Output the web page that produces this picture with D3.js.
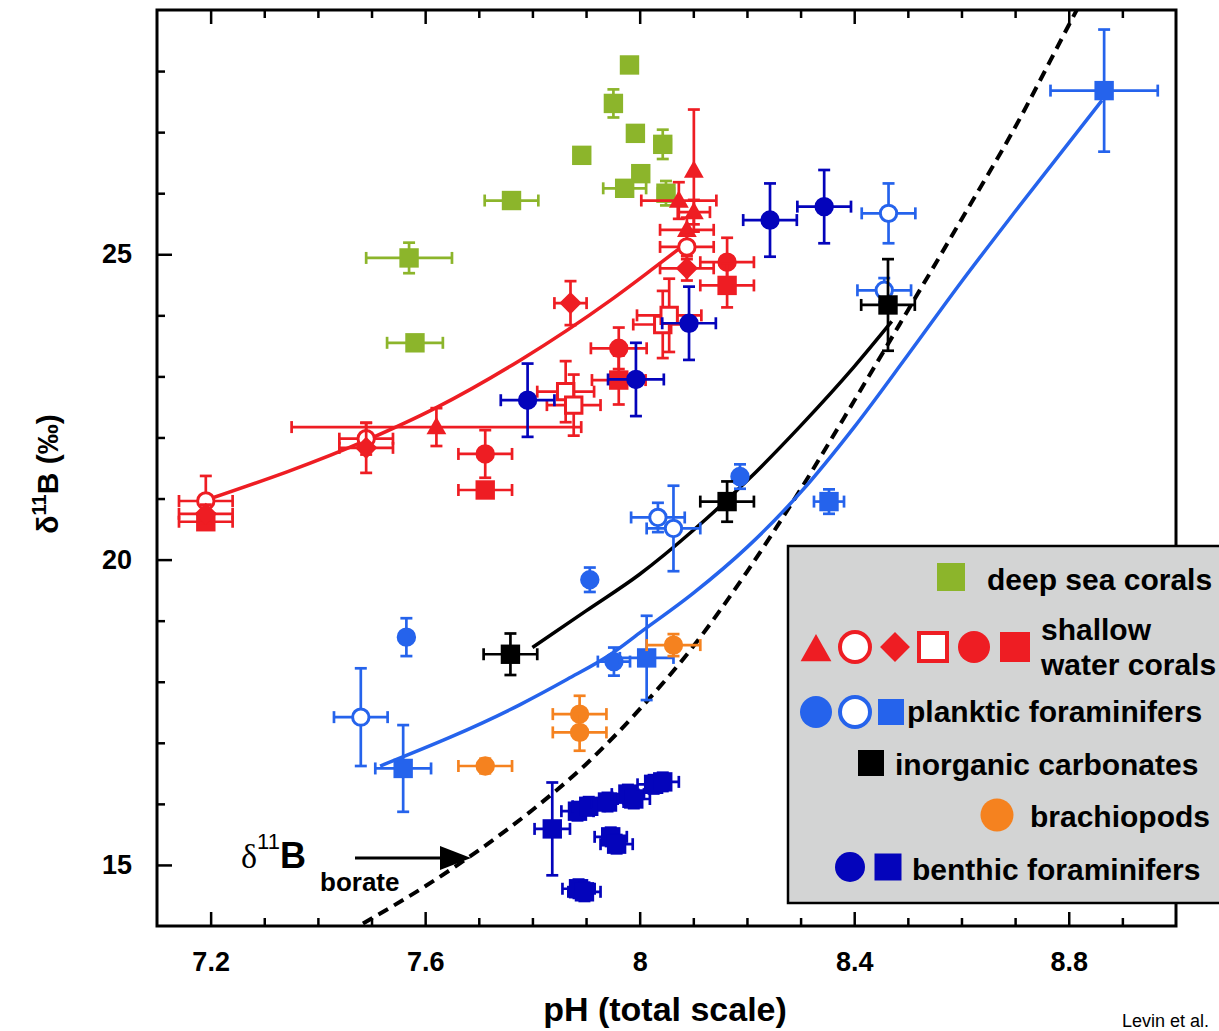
<!DOCTYPE html>
<html>
<head>
<meta charset="utf-8">
<script src="https://cdn.jsdelivr.net/npm/d3@7"></script>
<style>
  body { margin: 0; background: #fff; }
  text { font-family: "Liberation Sans", Arial, Helvetica, sans-serif; }
</style>
</head>
<body>
<svg id="chart" width="1219" height="1031"></svg>
<script>
// ---- data: [pH, d11B, pH error, d11B error, marker] ----
const deepSeaCorals = [
  [7.981, 28.10, 0, 0, "sq"],
  [7.951, 27.47, 0, 0.23, "sq"],
  [7.992, 26.98, 0, 0, "sq"],
  [8.043, 26.80, 0.015, 0.24, "sq"],
  [7.892, 26.62, 0, 0, "sq"],
  [8.002, 26.32, 0, 0, "sq"],
  [7.972, 26.08, 0.04, 0, "sq"],
  [8.049, 26.00, 0.015, 0.2, "sq"],
  [7.761, 25.88, 0.05, 0, "sq"],
  [7.570, 24.94, 0.08, 0.25, "sq"],
  [7.581, 23.55, 0.052, 0, "sq"]
];

const shallowWaterCorals = [
  [7.191, 20.96, 0.05, 0.41, "ocirc"],
  [7.191, 20.62, 0.05, 0.10, "sq"],
  [7.191, 20.75, 0.05, 0.15, "diam"],
  [7.490, 21.98, 0.05, 0.26, "ocirc"],
  [7.490, 21.83, 0.05, 0.41, "diam"],
  [7.621, 22.17, 0.27, 0.31, "tri"],
  [7.712, 21.73, 0.05, 0.39, "circ"],
  [7.712, 21.14, 0.05, 0.10, "sq"],
  [7.871, 24.20, 0.03, 0.36, "diam"],
  [7.862, 22.75, 0.053, 0.5, "osq"],
  [7.877, 22.53, 0.05, 0.5, "osq"],
  [7.961, 23.46, 0.052, 0.34, "circ"],
  [7.961, 22.94, 0.05, 0.40, "sq"],
  [8.043, 23.85, 0.055, 0.55, "osq"],
  [8.055, 24.00, 0.06, 0.60, "osq"],
  [8.101, 26.37, 0, 1.0, "tri"],
  [8.073, 25.88, 0.07, 0.3, "tri"],
  [8.101, 25.69, 0.03, 0.2, "tri"],
  [8.088, 25.40, 0.05, 0.2, "tri"],
  [8.088, 25.12, 0.05, 0.2, "ocirc"],
  [8.088, 24.77, 0.05, 0.2, "diam"],
  [8.163, 24.87, 0.05, 0.4, "circ"],
  [8.163, 24.49, 0.05, 0.36, "sq"]
];

const planktonicForams = [
  [8.464, 25.67, 0.05, 0.49, "ocirc"],
  [8.456, 24.41, 0.05, 0.2, "ocirc"],
  [8.034, 20.69, 0.05, 0.24, "ocirc"],
  [8.063, 20.51, 0.05, 0.7, "ocirc"],
  [7.480, 17.42, 0.05, 0.8, "ocirc"],
  [8.187, 21.36, 0.01, 0.2, "circ"],
  [7.907, 19.67, 0.01, 0.2, "circ"],
  [7.565, 18.73, 0.01, 0.31, "circ"],
  [7.952, 18.33, 0.03, 0.23, "circ"],
  [8.353, 20.95, 0.028, 0.2, "sq"],
  [7.559, 16.58, 0.052, 0.71, "sq"],
  [8.013, 18.39, 0.05, 0.69, "sq"],
  [8.866, 27.68, 0.10, 1.0, "sq"]
];

const inorganicCarbonates = [
  [7.759, 18.45, 0.05, 0.34, "sq"],
  [8.163, 20.95, 0.05, 0.33, "sq"],
  [8.463, 24.17, 0.05, 0.75, "sq"]
];

const brachiopods = [
  [8.063, 18.60, 0.05, 0.18, "circ"],
  [7.888, 17.47, 0.05, 0.3, "circ"],
  [7.888, 17.17, 0.05, 0.3, "circ"],
  [7.712, 16.62, 0.05, 0.12, "circ"]
];

const benthicForams = [
  [8.243, 25.56, 0.05, 0.6, "circ"],
  [8.344, 25.78, 0.05, 0.6, "circ"],
  [8.092, 23.87, 0.05, 0.6, "circ"],
  [7.993, 22.95, 0.052, 0.6, "circ"],
  [7.791, 22.61, 0.05, 0.6, "circ"],
  [7.837, 15.59, 0.033, 0.76, "sq"],
  [7.884, 15.88, 0.03, 0.15, "sq"],
  [7.905, 15.96, 0.03, 0.15, "sq"],
  [7.940, 16.03, 0.03, 0.15, "sq"],
  [7.946, 15.46, 0.03, 0.15, "sq"],
  [7.957, 15.34, 0.03, 0.15, "sq"],
  [7.978, 16.16, 0.03, 0.15, "sq"],
  [7.989, 16.08, 0.03, 0.15, "sq"],
  [8.026, 16.32, 0.03, 0.15, "sq"],
  [8.043, 16.36, 0.03, 0.15, "sq"],
  [7.886, 14.61, 0.03, 0.15, "sq"],
  [7.897, 14.56, 0.03, 0.15, "sq"]
];

// fitted calibration curves: [pH, d11B]
const shallowCoralCurve = [
  [7.193, 20.98], [7.492, 21.96], [7.619, 22.48], [7.778, 23.27],
  [7.946, 24.25], [8.021, 24.74], [8.078, 25.12]
];
const inorganicCurve = [
  [7.80, 18.56], [7.90, 19.16], [8.00, 19.76], [8.10, 20.48], [8.20, 21.29],
  [8.30, 22.19], [8.40, 23.16], [8.47, 23.90]
];
const planktonicCurve = [
  [7.516, 16.62], [7.778, 17.63], [7.865, 18.04], [7.946, 18.45],
  [8.00, 18.80], [8.10, 19.45], [8.20, 20.20], [8.30, 21.10], [8.40, 22.17],
  [8.50, 23.35], [8.60, 24.55], [8.70, 25.70], [8.862, 27.52]
];
const borateCurve = [
  [7.484, 14.04], [7.60, 14.65], [7.70, 15.24], [7.80, 15.90], [7.90, 16.65],
  [8.00, 17.55], [8.10, 18.58], [8.20, 19.80], [8.30, 21.15], [8.40, 22.60],
  [8.50, 24.08], [8.60, 25.57], [8.70, 27.08], [8.80, 28.75], [8.83, 29.25]
];

const xMajorTicks = [7.2, 7.6, 8.0, 8.4, 8.8];
const yMajorTicks = [15, 20, 25];

// ---- layout ----
const svg = d3.select("#chart");
const plotLeft = 157, plotRight = 1176, plotTop = 10, plotBottom = 926;
const x = d3.scaleLinear().domain([7.1, 9.0]).range([plotLeft, plotRight]);
const y = d3.scaleLinear().domain([14, 29]).range([plotBottom, plotTop]);

const colors = {
  green: "#8cb52b",
  red: "#ee1d23",
  blue: "#2563ec",
  black: "#000000",
  orange: "#f5821f",
  navy: "#0404bb"
};

svg.append("defs").append("clipPath").attr("id", "plotClip")
  .append("rect").attr("x", plotLeft).attr("y", plotTop)
  .attr("width", plotRight - plotLeft).attr("height", plotBottom - plotTop);

// ---- marker shapes ----
function shapePath(kind, r) {
  switch (kind) {
    case "sq": case "osq":
      return `M${-r},${-r}H${r}V${r}H${-r}Z`;
    case "circ": case "ocirc":
      return `M${r},0A${r},${r} 0 1,1 ${-r},0A${r},${r} 0 1,1 ${r},0Z`;
    case "tri":
      return `M0,${-1.15 * r}L${1.1 * r},${0.8 * r}L${-1.1 * r},${0.8 * r}Z`;
    case "diam":
      return `M0,${-1.15 * r}L${1.15 * r},0L0,${1.15 * r}L${-1.15 * r},0Z`;
  }
}
function isOpen(kind) { return kind === "ocirc" || kind === "osq"; }

function drawMarker(g, kind, cx, cy, r, color, sw) {
  const open = isOpen(kind);
  g.append("path")
    .attr("d", shapePath(kind, open ? r - sw / 2 : r))
    .attr("transform", `translate(${cx},${cy})`)
    .attr("fill", open ? "#fff" : color)
    .attr("stroke", open ? color : "none")
    .attr("stroke-width", open ? sw : 0);
}

// ---- curves ----
const curveLayer = svg.append("g").attr("clip-path", "url(#plotClip)");
const line = d3.line().x(d => x(d[0])).y(d => y(d[1])).curve(d3.curveMonotoneX);

curveLayer.append("path").datum(borateCurve).attr("d", line)
  .attr("fill", "none").attr("stroke", "#000").attr("stroke-width", 4)
  .attr("stroke-dasharray", "11,7");
curveLayer.append("path").datum(shallowCoralCurve).attr("d", line)
  .attr("fill", "none").attr("stroke", colors.red).attr("stroke-width", 3.5);
curveLayer.append("path").datum(inorganicCurve).attr("d", line)
  .attr("fill", "none").attr("stroke", "#000").attr("stroke-width", 3.5);
curveLayer.append("path").datum(planktonicCurve).attr("d", line)
  .attr("fill", "none").attr("stroke", colors.blue).attr("stroke-width", 3.5);

// ---- points with error bars ----
function drawSeries(data, color) {
  const g = svg.append("g");
  const cap = 6;
  data.forEach(([ph, d, ex, ey, kind]) => {
    const cx = x(ph), cy = y(d);
    const eb = g.append("g").attr("stroke", color).attr("stroke-width", 2.7).attr("fill", "none");
    if (ex > 0) {
      const x0 = x(ph - ex), x1 = x(ph + ex);
      eb.append("line").attr("x1", x0).attr("x2", x1).attr("y1", cy).attr("y2", cy);
      eb.append("line").attr("x1", x0).attr("x2", x0).attr("y1", cy - cap).attr("y2", cy + cap);
      eb.append("line").attr("x1", x1).attr("x2", x1).attr("y1", cy - cap).attr("y2", cy + cap);
    }
    if (ey > 0) {
      const y0 = y(d - ey), y1 = y(d + ey);
      eb.append("line").attr("x1", cx).attr("x2", cx).attr("y1", y0).attr("y2", y1);
      eb.append("line").attr("x1", cx - cap).attr("x2", cx + cap).attr("y1", y0).attr("y2", y0);
      eb.append("line").attr("x1", cx - cap).attr("x2", cx + cap).attr("y1", y1).attr("y2", y1);
    }
    drawMarker(g, kind, cx, cy, kind === "tri" ? 9 : 9.7, color, 3);
  });
}
drawSeries(deepSeaCorals, colors.green);
drawSeries(shallowWaterCorals, colors.red);
drawSeries(planktonicForams, colors.blue);
drawSeries(inorganicCarbonates, colors.black);
drawSeries(brachiopods, colors.orange);
drawSeries(benthicForams, colors.navy);

// ---- axes (ticks point inward) ----
function styleAxis(g) {
  g.select(".domain").remove();
  g.selectAll(".tick line").attr("stroke", "#000").attr("stroke-width", 2.5);
  g.selectAll(".tick text").attr("font-size", 27).attr("font-weight", "bold")
    .attr("fill", "#000").attr("font-family", "Liberation Sans, Arial, sans-serif");
}
const xMinor = d3.range(7.2, 9.0, 0.1).filter(v => !xMajorTicks.some(m => Math.abs(m - v) < 1e-6));
const yMinor = d3.range(15, 29, 1).filter(v => !yMajorTicks.includes(v));

svg.append("g").attr("transform", `translate(0,${plotBottom})`)
  .call(d3.axisBottom(x).tickValues(xMinor).tickSize(-8).tickFormat(""))
  .call(styleAxis);
svg.append("g").attr("transform", `translate(0,${plotBottom})`)
  .call(d3.axisBottom(x).tickValues(xMajorTicks).tickSize(-14).tickPadding(26)
    .tickFormat(d => d === 8 ? "8" : d3.format(".1f")(d)))
  .call(styleAxis);
svg.append("g").attr("transform", `translate(0,${plotTop})`)
  .call(d3.axisTop(x).tickValues(xMinor).tickSize(-8).tickFormat(""))
  .call(styleAxis);
svg.append("g").attr("transform", `translate(0,${plotTop})`)
  .call(d3.axisTop(x).tickValues(xMajorTicks).tickSize(-14).tickFormat(""))
  .call(styleAxis);
svg.append("g").attr("transform", `translate(${plotLeft},0)`)
  .call(d3.axisLeft(y).tickValues(yMinor).tickSize(-8).tickFormat(""))
  .call(styleAxis);
svg.append("g").attr("transform", `translate(${plotLeft},0)`)
  .call(d3.axisLeft(y).tickValues(yMajorTicks).tickSize(-15).tickPadding(25))
  .call(styleAxis);

svg.append("rect").attr("x", plotLeft).attr("y", plotTop)
  .attr("width", plotRight - plotLeft).attr("height", plotBottom - plotTop)
  .attr("fill", "none").attr("stroke", "#000").attr("stroke-width", 3);

// ---- axis titles ----
svg.append("text").attr("x", 665).attr("y", 1021).attr("text-anchor", "middle")
  .attr("font-size", 34).attr("font-weight", "bold").text("pH (total scale)");

const yt = svg.append("text").attr("transform", "translate(58,474) rotate(-90)")
  .attr("text-anchor", "middle").attr("font-size", 30).attr("font-weight", "bold");
yt.append("tspan").text("δ");
yt.append("tspan").attr("font-size", 20).attr("dy", -12).text("11");
yt.append("tspan").attr("dy", 12).text("B (‰)");

// ---- borate annotation ----
const ann = svg.append("text").attr("x", 241).attr("y", 868);
ann.append("tspan").attr("font-family", "Liberation Serif, Times New Roman, serif")
  .attr("font-size", 34).text("δ");
ann.append("tspan").attr("font-size", 22).attr("dy", -19).text("11");
ann.append("tspan").attr("font-size", 36).attr("font-weight", "bold").attr("dy", 19).text("B");
svg.append("text").attr("x", 320).attr("y", 891).attr("font-size", 26)
  .attr("font-weight", "bold").text("borate");
svg.append("line").attr("x1", 355).attr("x2", 445).attr("y1", 858).attr("y2", 858)
  .attr("stroke", "#000").attr("stroke-width", 3);
svg.append("path").attr("d", "M440,846L471,858L440,870Z").attr("fill", "#000");

// ---- legend ----
const lg = svg.append("g");
lg.append("rect").attr("x", 788).attr("y", 546).attr("width", 460).attr("height", 357)
  .attr("fill", "#d3d4d4").attr("stroke", "#000").attr("stroke-width", 2.5);
const legendItems = [
  { color: colors.green, marks: [["sq", 951, 577, 14]], text: ["deep sea corals"], tx: 987, ty: [590] },
  { color: colors.red,
    marks: [["tri", 816, 650, 14], ["ocirc", 855, 647, 17], ["diam", 895, 647, 13],
            ["osq", 933, 647, 16], ["circ", 974, 647, 16], ["sq", 1015, 647, 15]],
    text: ["shallow", "water corals"], tx: 1041, ty: [640, 675] },
  { color: colors.blue, marks: [["circ", 816, 712, 16], ["ocirc", 855, 712, 17], ["sq", 891, 712, 13]],
    text: ["planktic foraminifers"], tx: 907, ty: [722] },
  { color: colors.black, marks: [["sq", 871, 763, 13]], text: ["inorganic carbonates"], tx: 895, ty: [775] },
  { color: colors.orange, marks: [["circ", 997, 815, 16.5]], text: ["brachiopods"], tx: 1030, ty: [827] },
  { color: colors.navy, marks: [["circ", 850, 867, 15], ["sq", 888, 867, 13.5]],
    text: ["benthic foraminifers"], tx: 912, ty: [880] }
];
legendItems.forEach(item => {
  item.marks.forEach(([k, cx, cy, r]) => drawMarker(lg, k, cx, cy, r, item.color, 4));
  item.text.forEach((t, i) => lg.append("text").attr("x", item.tx).attr("y", item.ty[i])
    .attr("font-size", 30).attr("font-weight", "bold").text(t));
});

// ---- credit ----
svg.append("text").attr("x", 1122).attr("y", 1027)
  .attr("font-family", "Liberation Sans Narrow, Arial Narrow, Liberation Sans, sans-serif")
  .attr("font-size", 18).text("Levin et al.");
</script>
</body>
</html>
